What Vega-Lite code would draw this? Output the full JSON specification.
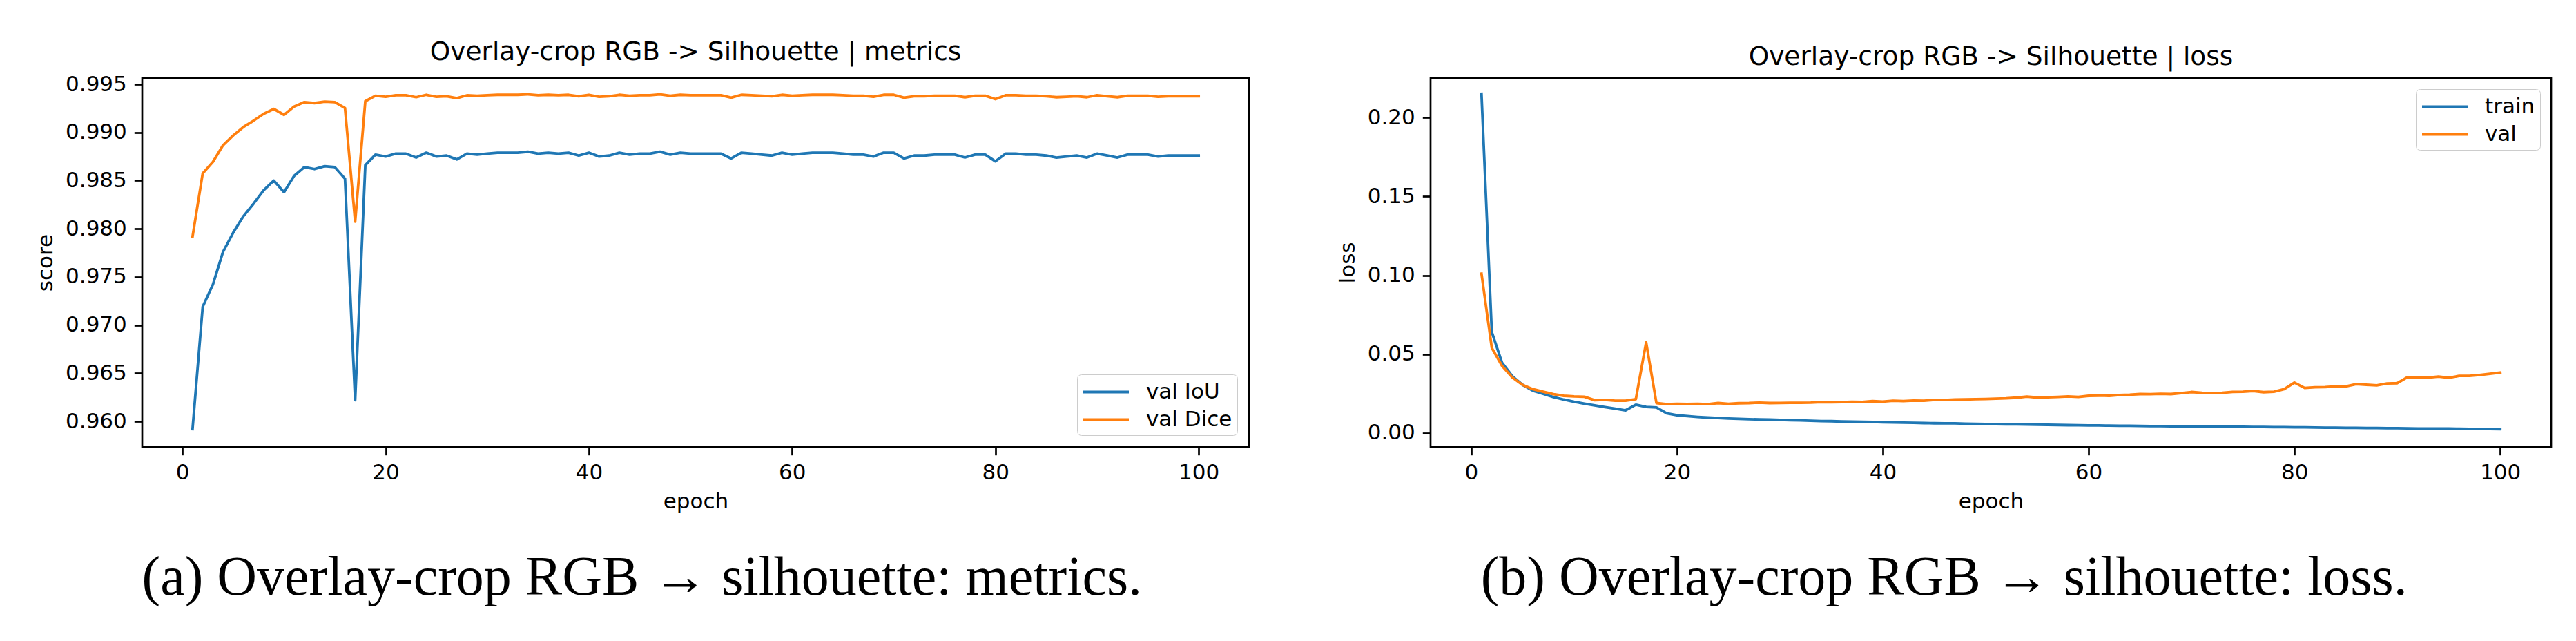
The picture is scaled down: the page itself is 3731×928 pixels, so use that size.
{
  "$schema": "https://vega.github.io/schema/vega-lite/v6.json",
  "background": "white",
  "padding": {"left": 49, "top": 55, "right": 20, "bottom": 10},
  "config": {
    "font": "DejaVu Sans",
    "view": {"stroke": "black", "strokeWidth": 2.7},
    "axis": {"domain": false, "grid": false, "tickColor": "black", "tickWidth": 2.7, "tickSize": 11.7, "labelFont": "DejaVu Sans", "labelFontSize": 31, "labelColor": "black", "labelPadding": 11, "titleFont": "DejaVu Sans", "titleFontSize": 31, "titleFontWeight": "normal", "titleColor": "black", "labelFlush": false, "labelOverlap": false, "titlePadding": 12},
    "title": {"font": "DejaVu Sans", "fontSize": 37.5, "fontWeight": "normal", "color": "black", "offset": 12},
    "legend": {"title": null, "symbolType": "M-1,0H3", "symbolSize": 1089, "symbolStrokeWidth": 4, "labelFont": "DejaVu Sans", "labelFontSize": 31, "labelColor": "black", "labelOffset": 56, "padding": 7, "rowPadding": 6, "strokeColor": "#cccccc", "fillColor": "rgba(255,255,255,0.8)", "cornerRadius": 6, "offset": 17}
  },
  "datasets": {
    "metrics": [
      {"epoch":1,"series":"val IoU","value":0.9592},{"epoch":2,"series":"val IoU","value":0.9719},{"epoch":3,"series":"val IoU","value":0.9742},{"epoch":4,"series":"val IoU","value":0.9776},{"epoch":5,"series":"val IoU","value":0.9796},
      {"epoch":6,"series":"val IoU","value":0.9813},{"epoch":7,"series":"val IoU","value":0.9826},{"epoch":8,"series":"val IoU","value":0.9840},{"epoch":9,"series":"val IoU","value":0.9850},{"epoch":10,"series":"val IoU","value":0.9838},
      {"epoch":11,"series":"val IoU","value":0.9855},{"epoch":12,"series":"val IoU","value":0.9864},{"epoch":13,"series":"val IoU","value":0.9862},{"epoch":14,"series":"val IoU","value":0.9865},{"epoch":15,"series":"val IoU","value":0.9864},
      {"epoch":16,"series":"val IoU","value":0.9852},{"epoch":17,"series":"val IoU","value":0.9622},{"epoch":18,"series":"val IoU","value":0.9866},{"epoch":19,"series":"val IoU","value":0.9877},{"epoch":20,"series":"val IoU","value":0.9875},
      {"epoch":21,"series":"val IoU","value":0.9878},{"epoch":22,"series":"val IoU","value":0.9878},{"epoch":23,"series":"val IoU","value":0.9874},{"epoch":24,"series":"val IoU","value":0.9879},{"epoch":25,"series":"val IoU","value":0.9875},
      {"epoch":26,"series":"val IoU","value":0.9876},{"epoch":27,"series":"val IoU","value":0.9872},{"epoch":28,"series":"val IoU","value":0.9878},{"epoch":29,"series":"val IoU","value":0.9877},{"epoch":30,"series":"val IoU","value":0.9878},
      {"epoch":31,"series":"val IoU","value":0.9879},{"epoch":32,"series":"val IoU","value":0.9879},{"epoch":33,"series":"val IoU","value":0.9879},{"epoch":34,"series":"val IoU","value":0.9880},{"epoch":35,"series":"val IoU","value":0.9878},
      {"epoch":36,"series":"val IoU","value":0.9879},{"epoch":37,"series":"val IoU","value":0.9878},{"epoch":38,"series":"val IoU","value":0.9879},{"epoch":39,"series":"val IoU","value":0.9876},{"epoch":40,"series":"val IoU","value":0.9879},
      {"epoch":41,"series":"val IoU","value":0.9875},{"epoch":42,"series":"val IoU","value":0.9876},{"epoch":43,"series":"val IoU","value":0.9879},{"epoch":44,"series":"val IoU","value":0.9877},{"epoch":45,"series":"val IoU","value":0.9878},
      {"epoch":46,"series":"val IoU","value":0.9878},{"epoch":47,"series":"val IoU","value":0.9880},{"epoch":48,"series":"val IoU","value":0.9877},{"epoch":49,"series":"val IoU","value":0.9879},{"epoch":50,"series":"val IoU","value":0.9878},
      {"epoch":51,"series":"val IoU","value":0.9878},{"epoch":52,"series":"val IoU","value":0.9878},{"epoch":53,"series":"val IoU","value":0.9878},{"epoch":54,"series":"val IoU","value":0.9873},{"epoch":55,"series":"val IoU","value":0.9879},
      {"epoch":56,"series":"val IoU","value":0.9878},{"epoch":57,"series":"val IoU","value":0.9877},{"epoch":58,"series":"val IoU","value":0.9876},{"epoch":59,"series":"val IoU","value":0.9879},{"epoch":60,"series":"val IoU","value":0.9877},
      {"epoch":61,"series":"val IoU","value":0.9878},{"epoch":62,"series":"val IoU","value":0.9879},{"epoch":63,"series":"val IoU","value":0.9879},{"epoch":64,"series":"val IoU","value":0.9879},{"epoch":65,"series":"val IoU","value":0.9878},
      {"epoch":66,"series":"val IoU","value":0.9877},{"epoch":67,"series":"val IoU","value":0.9877},{"epoch":68,"series":"val IoU","value":0.9875},{"epoch":69,"series":"val IoU","value":0.9879},{"epoch":70,"series":"val IoU","value":0.9879},
      {"epoch":71,"series":"val IoU","value":0.9873},{"epoch":72,"series":"val IoU","value":0.9876},{"epoch":73,"series":"val IoU","value":0.9876},{"epoch":74,"series":"val IoU","value":0.9877},{"epoch":75,"series":"val IoU","value":0.9877},
      {"epoch":76,"series":"val IoU","value":0.9877},{"epoch":77,"series":"val IoU","value":0.9874},{"epoch":78,"series":"val IoU","value":0.9877},{"epoch":79,"series":"val IoU","value":0.9877},{"epoch":80,"series":"val IoU","value":0.9870},
      {"epoch":81,"series":"val IoU","value":0.9878},{"epoch":82,"series":"val IoU","value":0.9878},{"epoch":83,"series":"val IoU","value":0.9877},{"epoch":84,"series":"val IoU","value":0.9877},{"epoch":85,"series":"val IoU","value":0.9876},
      {"epoch":86,"series":"val IoU","value":0.9874},{"epoch":87,"series":"val IoU","value":0.9875},{"epoch":88,"series":"val IoU","value":0.9876},{"epoch":89,"series":"val IoU","value":0.9874},{"epoch":90,"series":"val IoU","value":0.9878},
      {"epoch":91,"series":"val IoU","value":0.9876},{"epoch":92,"series":"val IoU","value":0.9874},{"epoch":93,"series":"val IoU","value":0.9877},{"epoch":94,"series":"val IoU","value":0.9877},{"epoch":95,"series":"val IoU","value":0.9877},
      {"epoch":96,"series":"val IoU","value":0.9875},{"epoch":97,"series":"val IoU","value":0.9876},{"epoch":98,"series":"val IoU","value":0.9876},{"epoch":99,"series":"val IoU","value":0.9876},{"epoch":100,"series":"val IoU","value":0.9876},
      {"epoch":1,"series":"val Dice","value":0.97918},{"epoch":2,"series":"val Dice","value":0.98575},{"epoch":3,"series":"val Dice","value":0.98693},{"epoch":4,"series":"val Dice","value":0.98867},{"epoch":5,"series":"val Dice","value":0.98969},
      {"epoch":6,"series":"val Dice","value":0.99056},{"epoch":7,"series":"val Dice","value":0.99122},{"epoch":8,"series":"val Dice","value":0.99194},{"epoch":9,"series":"val Dice","value":0.99244},{"epoch":10,"series":"val Dice","value":0.99183},
      {"epoch":11,"series":"val Dice","value":0.99270},{"epoch":12,"series":"val Dice","value":0.99315},{"epoch":13,"series":"val Dice","value":0.99305},{"epoch":14,"series":"val Dice","value":0.99320},{"epoch":15,"series":"val Dice","value":0.99315},
      {"epoch":16,"series":"val Dice","value":0.99254},{"epoch":17,"series":"val Dice","value":0.98074},{"epoch":18,"series":"val Dice","value":0.99325},{"epoch":19,"series":"val Dice","value":0.99381},{"epoch":20,"series":"val Dice","value":0.99371},
      {"epoch":21,"series":"val Dice","value":0.99386},{"epoch":22,"series":"val Dice","value":0.99386},{"epoch":23,"series":"val Dice","value":0.99366},{"epoch":24,"series":"val Dice","value":0.99391},{"epoch":25,"series":"val Dice","value":0.99371},
      {"epoch":26,"series":"val Dice","value":0.99376},{"epoch":27,"series":"val Dice","value":0.99356},{"epoch":28,"series":"val Dice","value":0.99386},{"epoch":29,"series":"val Dice","value":0.99381},{"epoch":30,"series":"val Dice","value":0.99386},
      {"epoch":31,"series":"val Dice","value":0.99391},{"epoch":32,"series":"val Dice","value":0.99391},{"epoch":33,"series":"val Dice","value":0.99391},{"epoch":34,"series":"val Dice","value":0.99396},{"epoch":35,"series":"val Dice","value":0.99386},
      {"epoch":36,"series":"val Dice","value":0.99391},{"epoch":37,"series":"val Dice","value":0.99386},{"epoch":38,"series":"val Dice","value":0.99391},{"epoch":39,"series":"val Dice","value":0.99376},{"epoch":40,"series":"val Dice","value":0.99391},
      {"epoch":41,"series":"val Dice","value":0.99371},{"epoch":42,"series":"val Dice","value":0.99376},{"epoch":43,"series":"val Dice","value":0.99391},{"epoch":44,"series":"val Dice","value":0.99381},{"epoch":45,"series":"val Dice","value":0.99386},
      {"epoch":46,"series":"val Dice","value":0.99386},{"epoch":47,"series":"val Dice","value":0.99396},{"epoch":48,"series":"val Dice","value":0.99381},{"epoch":49,"series":"val Dice","value":0.99391},{"epoch":50,"series":"val Dice","value":0.99386},
      {"epoch":51,"series":"val Dice","value":0.99386},{"epoch":52,"series":"val Dice","value":0.99386},{"epoch":53,"series":"val Dice","value":0.99386},{"epoch":54,"series":"val Dice","value":0.99361},{"epoch":55,"series":"val Dice","value":0.99391},
      {"epoch":56,"series":"val Dice","value":0.99386},{"epoch":57,"series":"val Dice","value":0.99381},{"epoch":58,"series":"val Dice","value":0.99376},{"epoch":59,"series":"val Dice","value":0.99391},{"epoch":60,"series":"val Dice","value":0.99381},
      {"epoch":61,"series":"val Dice","value":0.99386},{"epoch":62,"series":"val Dice","value":0.99391},{"epoch":63,"series":"val Dice","value":0.99391},{"epoch":64,"series":"val Dice","value":0.99391},{"epoch":65,"series":"val Dice","value":0.99386},
      {"epoch":66,"series":"val Dice","value":0.99381},{"epoch":67,"series":"val Dice","value":0.99381},{"epoch":68,"series":"val Dice","value":0.99371},{"epoch":69,"series":"val Dice","value":0.99391},{"epoch":70,"series":"val Dice","value":0.99391},
      {"epoch":71,"series":"val Dice","value":0.99361},{"epoch":72,"series":"val Dice","value":0.99376},{"epoch":73,"series":"val Dice","value":0.99376},{"epoch":74,"series":"val Dice","value":0.99381},{"epoch":75,"series":"val Dice","value":0.99381},
      {"epoch":76,"series":"val Dice","value":0.99381},{"epoch":77,"series":"val Dice","value":0.99366},{"epoch":78,"series":"val Dice","value":0.99381},{"epoch":79,"series":"val Dice","value":0.99381},{"epoch":80,"series":"val Dice","value":0.99346},
      {"epoch":81,"series":"val Dice","value":0.99386},{"epoch":82,"series":"val Dice","value":0.99386},{"epoch":83,"series":"val Dice","value":0.99381},{"epoch":84,"series":"val Dice","value":0.99381},{"epoch":85,"series":"val Dice","value":0.99376},
      {"epoch":86,"series":"val Dice","value":0.99366},{"epoch":87,"series":"val Dice","value":0.99371},{"epoch":88,"series":"val Dice","value":0.99376},{"epoch":89,"series":"val Dice","value":0.99366},{"epoch":90,"series":"val Dice","value":0.99386},
      {"epoch":91,"series":"val Dice","value":0.99376},{"epoch":92,"series":"val Dice","value":0.99366},{"epoch":93,"series":"val Dice","value":0.99381},{"epoch":94,"series":"val Dice","value":0.99381},{"epoch":95,"series":"val Dice","value":0.99381},
      {"epoch":96,"series":"val Dice","value":0.99371},{"epoch":97,"series":"val Dice","value":0.99376},{"epoch":98,"series":"val Dice","value":0.99376},{"epoch":99,"series":"val Dice","value":0.99376},{"epoch":100,"series":"val Dice","value":0.99376}
    ],
    "loss": [
      {"epoch":1,"series":"train","value":0.2150},{"epoch":2,"series":"train","value":0.0640},{"epoch":3,"series":"train","value":0.0445},{"epoch":4,"series":"train","value":0.0360},{"epoch":5,"series":"train","value":0.0305},
      {"epoch":6,"series":"train","value":0.0268},{"epoch":7,"series":"train","value":0.0248},{"epoch":8,"series":"train","value":0.0228},{"epoch":9,"series":"train","value":0.0212},{"epoch":10,"series":"train","value":0.0198},
      {"epoch":11,"series":"train","value":0.0186},{"epoch":12,"series":"train","value":0.0175},{"epoch":13,"series":"train","value":0.0164},{"epoch":14,"series":"train","value":0.0154},{"epoch":15,"series":"train","value":0.0144},
      {"epoch":16,"series":"train","value":0.0180},{"epoch":17,"series":"train","value":0.0165},{"epoch":18,"series":"train","value":0.0162},{"epoch":19,"series":"train","value":0.0125},{"epoch":20,"series":"train","value":0.0113},
      {"epoch":21,"series":"train","value":0.0107},{"epoch":22,"series":"train","value":0.0102},{"epoch":23,"series":"train","value":0.0098},{"epoch":24,"series":"train","value":0.0095},{"epoch":25,"series":"train","value":0.0092},
      {"epoch":26,"series":"train","value":0.0090},{"epoch":27,"series":"train","value":0.0088},{"epoch":28,"series":"train","value":0.0086},{"epoch":29,"series":"train","value":0.0085},{"epoch":30,"series":"train","value":0.0083},
      {"epoch":31,"series":"train","value":0.0081},{"epoch":32,"series":"train","value":0.0080},{"epoch":33,"series":"train","value":0.0078},{"epoch":34,"series":"train","value":0.0076},{"epoch":35,"series":"train","value":0.0075},
      {"epoch":36,"series":"train","value":0.0073},{"epoch":37,"series":"train","value":0.0072},{"epoch":38,"series":"train","value":0.0071},{"epoch":39,"series":"train","value":0.0070},{"epoch":40,"series":"train","value":0.0068},
      {"epoch":41,"series":"train","value":0.0067},{"epoch":42,"series":"train","value":0.0066},{"epoch":43,"series":"train","value":0.0065},{"epoch":44,"series":"train","value":0.0063},{"epoch":45,"series":"train","value":0.0062},
      {"epoch":46,"series":"train","value":0.0061},{"epoch":47,"series":"train","value":0.0061},{"epoch":48,"series":"train","value":0.0059},{"epoch":49,"series":"train","value":0.0058},{"epoch":50,"series":"train","value":0.0057},
      {"epoch":51,"series":"train","value":0.0056},{"epoch":52,"series":"train","value":0.0055},{"epoch":53,"series":"train","value":0.0055},{"epoch":54,"series":"train","value":0.0054},{"epoch":55,"series":"train","value":0.0053},
      {"epoch":56,"series":"train","value":0.0052},{"epoch":57,"series":"train","value":0.0051},{"epoch":58,"series":"train","value":0.0050},{"epoch":59,"series":"train","value":0.0049},{"epoch":60,"series":"train","value":0.0048},
      {"epoch":61,"series":"train","value":0.0048},{"epoch":62,"series":"train","value":0.0047},{"epoch":63,"series":"train","value":0.0046},{"epoch":64,"series":"train","value":0.0046},{"epoch":65,"series":"train","value":0.0045},
      {"epoch":66,"series":"train","value":0.0044},{"epoch":67,"series":"train","value":0.0044},{"epoch":68,"series":"train","value":0.0043},{"epoch":69,"series":"train","value":0.0043},{"epoch":70,"series":"train","value":0.0042},
      {"epoch":71,"series":"train","value":0.0041},{"epoch":72,"series":"train","value":0.0041},{"epoch":73,"series":"train","value":0.0040},{"epoch":74,"series":"train","value":0.0040},{"epoch":75,"series":"train","value":0.0039},
      {"epoch":76,"series":"train","value":0.0038},{"epoch":77,"series":"train","value":0.0038},{"epoch":78,"series":"train","value":0.0037},{"epoch":79,"series":"train","value":0.0037},{"epoch":80,"series":"train","value":0.0036},
      {"epoch":81,"series":"train","value":0.0036},{"epoch":82,"series":"train","value":0.0035},{"epoch":83,"series":"train","value":0.0034},{"epoch":84,"series":"train","value":0.0034},{"epoch":85,"series":"train","value":0.0033},
      {"epoch":86,"series":"train","value":0.0033},{"epoch":87,"series":"train","value":0.0032},{"epoch":88,"series":"train","value":0.0032},{"epoch":89,"series":"train","value":0.0031},{"epoch":90,"series":"train","value":0.0031},
      {"epoch":91,"series":"train","value":0.0030},{"epoch":92,"series":"train","value":0.0029},{"epoch":93,"series":"train","value":0.0029},{"epoch":94,"series":"train","value":0.0028},{"epoch":95,"series":"train","value":0.0028},
      {"epoch":96,"series":"train","value":0.0027},{"epoch":97,"series":"train","value":0.0026},{"epoch":98,"series":"train","value":0.0026},{"epoch":99,"series":"train","value":0.0025},{"epoch":100,"series":"train","value":0.0024},
      {"epoch":1,"series":"val","value":0.1010},{"epoch":2,"series":"val","value":0.0540},{"epoch":3,"series":"val","value":0.0425},{"epoch":4,"series":"val","value":0.0352},{"epoch":5,"series":"val","value":0.0305},
      {"epoch":6,"series":"val","value":0.0278},{"epoch":7,"series":"val","value":0.0262},{"epoch":8,"series":"val","value":0.0246},{"epoch":9,"series":"val","value":0.0236},{"epoch":10,"series":"val","value":0.0232},
      {"epoch":11,"series":"val","value":0.0230},{"epoch":12,"series":"val","value":0.0208},{"epoch":13,"series":"val","value":0.0210},{"epoch":14,"series":"val","value":0.0205},{"epoch":15,"series":"val","value":0.0205},
      {"epoch":16,"series":"val","value":0.0215},{"epoch":17,"series":"val","value":0.0575},{"epoch":18,"series":"val","value":0.0190},{"epoch":19,"series":"val","value":0.0183},{"epoch":20,"series":"val","value":0.0185},
      {"epoch":21,"series":"val","value":0.0184},{"epoch":22,"series":"val","value":0.0185},{"epoch":23,"series":"val","value":0.0183},{"epoch":24,"series":"val","value":0.0190},{"epoch":25,"series":"val","value":0.0185},
      {"epoch":26,"series":"val","value":0.0189},{"epoch":27,"series":"val","value":0.0190},{"epoch":28,"series":"val","value":0.0193},{"epoch":29,"series":"val","value":0.0190},{"epoch":30,"series":"val","value":0.0191},
      {"epoch":31,"series":"val","value":0.0192},{"epoch":32,"series":"val","value":0.0192},{"epoch":33,"series":"val","value":0.0193},{"epoch":34,"series":"val","value":0.0196},{"epoch":35,"series":"val","value":0.0195},
      {"epoch":36,"series":"val","value":0.0196},{"epoch":37,"series":"val","value":0.0198},{"epoch":38,"series":"val","value":0.0197},{"epoch":39,"series":"val","value":0.0202},{"epoch":40,"series":"val","value":0.0199},
      {"epoch":41,"series":"val","value":0.0205},{"epoch":42,"series":"val","value":0.0203},{"epoch":43,"series":"val","value":0.0206},{"epoch":44,"series":"val","value":0.0205},{"epoch":45,"series":"val","value":0.0210},
      {"epoch":46,"series":"val","value":0.0209},{"epoch":47,"series":"val","value":0.0212},{"epoch":48,"series":"val","value":0.0213},{"epoch":49,"series":"val","value":0.0215},{"epoch":50,"series":"val","value":0.0216},
      {"epoch":51,"series":"val","value":0.0218},{"epoch":52,"series":"val","value":0.0220},{"epoch":53,"series":"val","value":0.0224},{"epoch":54,"series":"val","value":0.0231},{"epoch":55,"series":"val","value":0.0225},
      {"epoch":56,"series":"val","value":0.0227},{"epoch":57,"series":"val","value":0.0229},{"epoch":58,"series":"val","value":0.0232},{"epoch":59,"series":"val","value":0.0229},{"epoch":60,"series":"val","value":0.0236},
      {"epoch":61,"series":"val","value":0.0237},{"epoch":62,"series":"val","value":0.0236},{"epoch":63,"series":"val","value":0.0241},{"epoch":64,"series":"val","value":0.0243},{"epoch":65,"series":"val","value":0.0247},
      {"epoch":66,"series":"val","value":0.0246},{"epoch":67,"series":"val","value":0.0249},{"epoch":68,"series":"val","value":0.0247},{"epoch":69,"series":"val","value":0.0253},{"epoch":70,"series":"val","value":0.0260},
      {"epoch":71,"series":"val","value":0.0255},{"epoch":72,"series":"val","value":0.0254},{"epoch":73,"series":"val","value":0.0255},{"epoch":74,"series":"val","value":0.0261},{"epoch":75,"series":"val","value":0.0262},
      {"epoch":76,"series":"val","value":0.0266},{"epoch":77,"series":"val","value":0.0259},{"epoch":78,"series":"val","value":0.0262},{"epoch":79,"series":"val","value":0.0278},{"epoch":80,"series":"val","value":0.0320},
      {"epoch":81,"series":"val","value":0.0286},{"epoch":82,"series":"val","value":0.0290},{"epoch":83,"series":"val","value":0.0291},{"epoch":84,"series":"val","value":0.0296},{"epoch":85,"series":"val","value":0.0296},
      {"epoch":86,"series":"val","value":0.0310},{"epoch":87,"series":"val","value":0.0306},{"epoch":88,"series":"val","value":0.0302},{"epoch":89,"series":"val","value":0.0314},{"epoch":90,"series":"val","value":0.0316},
      {"epoch":91,"series":"val","value":0.0355},{"epoch":92,"series":"val","value":0.0350},{"epoch":93,"series":"val","value":0.0351},{"epoch":94,"series":"val","value":0.0358},{"epoch":95,"series":"val","value":0.0350},
      {"epoch":96,"series":"val","value":0.0362},{"epoch":97,"series":"val","value":0.0362},{"epoch":98,"series":"val","value":0.0368},{"epoch":99,"series":"val","value":0.0376},{"epoch":100,"series":"val","value":0.0383}
    ]
  },
  "resolve": {"scale": {"color": "independent"}, "legend": {"color": "independent"}},
  "spacing": 123,
  "hconcat": [
    {
      "title": {"text": "(a) Overlay-crop RGB → silhouette: metrics.", "orient": "bottom", "anchor": "middle", "font": "Liberation Serif", "fontSize": 80, "fontWeight": "normal", "color": "black", "offset": 55},
      "resolve": {"scale": {"color": "independent"}, "legend": {"color": "independent"}},
      "vconcat": [
        {
          "title": {"text": "Overlay-crop RGB -> Silhouette | metrics"},
          "width": 1603,
          "height": 534,
          "data": {"name": "metrics"},
          "mark": {"type": "line", "strokeWidth": 3.8, "strokeJoin": "round", "strokeCap": "square"},
          "encoding": {
            "x": {"field": "epoch", "type": "quantitative", "scale": {"domain": [-3.95, 104.95], "nice": false, "zero": false}, "axis": {"values": [0, 20, 40, 60, 80, 100], "format": "d", "title": "epoch"}},
            "y": {"field": "value", "type": "quantitative", "scale": {"domain": [0.95735, 0.99565], "nice": false, "zero": false}, "axis": {"values": [0.96, 0.965, 0.97, 0.975, 0.98, 0.985, 0.99, 0.995], "format": ".3f", "title": "score"}},
            "color": {"field": "series", "type": "nominal", "scale": {"domain": ["val IoU", "val Dice"], "range": ["#1f77b4", "#ff7f0e"]}, "legend": {"orient": "bottom-right", "offset": 17}}
          }
        }
      ]
    },
    {
      "title": {"text": "(b) Overlay-crop RGB → silhouette: loss.", "orient": "bottom", "anchor": "middle", "font": "Liberation Serif", "fontSize": 80, "fontWeight": "normal", "color": "black", "offset": 55},
      "resolve": {"scale": {"color": "independent"}, "legend": {"color": "independent"}},
      "vconcat": [
        {
          "title": {"text": "Overlay-crop RGB -> Silhouette | loss"},
          "width": 1623,
          "height": 534,
          "data": {"name": "loss"},
          "mark": {"type": "line", "strokeWidth": 3.8, "strokeJoin": "round", "strokeCap": "square"},
          "encoding": {
            "x": {"field": "epoch", "type": "quantitative", "scale": {"domain": [-3.95, 104.95], "nice": false, "zero": false}, "axis": {"values": [0, 20, 40, 60, 80, 100], "format": "d", "title": "epoch"}},
            "y": {"field": "value", "type": "quantitative", "scale": {"domain": [-0.0088, 0.2250], "nice": false, "zero": false}, "axis": {"values": [0, 0.05, 0.1, 0.15, 0.2], "format": ".2f", "title": "loss"}},
            "color": {"field": "series", "type": "nominal", "scale": {"domain": ["train", "val"], "range": ["#1f77b4", "#ff7f0e"]}, "legend": {"orient": "top-right", "offset": 16}}
          }
        }
      ]
    }
  ]
}
